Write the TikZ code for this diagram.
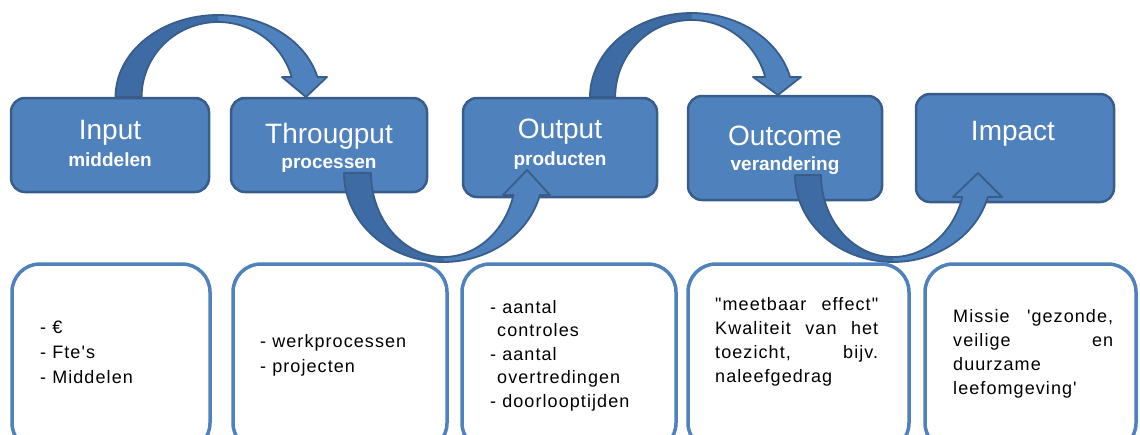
\documentclass[tikz,border=0pt]{standalone}
\usepackage{fontspec}
\setmainfont{Liberation Sans}[Ligatures=TeXOff]
\definecolor{boxfill}{HTML}{4F81BD}
\definecolor{boxline}{HTML}{385D8A}
\definecolor{arrback}{HTML}{3E6BA3}
\definecolor{lowline}{HTML}{4F81BD}
% #1 cx, #2 cy, #3 outer rx, #4 outer ry, #5 inner rx, #6 inner ry,
% #7 outer end angle, #8 inner end angle, #9 split angle; head = (hr),(ht),(hl)
\newcommand{\bentarrow}[9]{%
  \fill[arrowface] plot[domain=180:#7,samples=60,variable=\t] ({#1+#3*cos(\t)},{#2+#4*sin(\t)})
    -- (hr) -- (ht) -- (hl)
    -- plot[domain=#8:180,samples=60,variable=\t] ({#1+#5*cos(\t)},{#2+#6*sin(\t)}) -- cycle;
  \fill[arrowrear] plot[domain=180:#9,samples=40,variable=\t] ({#1+#3*cos(\t)},{#2+#4*sin(\t)})
    -- plot[domain=#9:180,samples=40,variable=\t] ({#1+#5*cos(\t)},{#2+#6*sin(\t)}) -- cycle;
  \draw[arrowrim] plot[domain=180:#7,samples=60,variable=\t] ({#1+#3*cos(\t)},{#2+#4*sin(\t)})
    -- (hr) -- (ht) -- (hl)
    -- plot[domain=#8:180,samples=60,variable=\t] ({#1+#5*cos(\t)},{#2+#6*sin(\t)}) -- cycle;
}
\begin{document}
\begin{tikzpicture}[x=1pt,y=-1pt,
  topbox/.style={draw=boxline, fill=boxfill, line width=2.5pt, rounded corners=14pt, inner sep=0pt},
  lowbox/.style={draw=lowline, fill=white, line width=3.5pt, rounded corners=28pt, inner sep=0pt},
  title/.style={text=white, font=\fontsize{28}{30}\selectfont, anchor=base, inner sep=0pt},
  subtitle/.style={text=white, font=\bfseries\fontsize{19}{21}\selectfont, anchor=base, inner sep=0pt},
  body/.style={anchor=base west, inner sep=0pt, text=black},
  arrowface/.style={fill=boxfill},
  arrowrear/.style={fill=arrback},
  arrowrim/.style={draw=boxline, line width=1.8pt, line join=round},
]
\useasboundingbox (0,0) rectangle (1140,434);
\clip (0,0) rectangle (1140,434);

% top boxes
\node[topbox, minimum width=198pt, minimum height=94pt] (input) at (110,145) {};
\node[topbox, minimum width=196pt, minimum height=94pt] (through) at (329,145) {};
\node[topbox, minimum width=194pt, minimum height=99pt] (output) at (560,147.5) {};
\node[topbox, minimum width=194pt, minimum height=104pt] (outcome) at (785,148) {};
\node[topbox, minimum width=198pt, minimum height=108pt] (impact) at (1015,148) {};

% bottom boxes
\node[lowbox, minimum width=198pt, minimum height=187pt] (b1) at (111,357.5) {};
\node[lowbox, minimum width=214pt, minimum height=187pt] (b2) at (340,357.5) {};
\node[lowbox, minimum width=214pt, minimum height=187pt] (b3) at (569,357.5) {};
\node[lowbox, minimum width=221pt, minimum height=187pt] (b4) at (798.5,357.5) {};
\node[lowbox, minimum width=211pt, minimum height=187pt] (b5) at (1030.5,357.5) {};

% arrows
\coordinate (hr) at (327,77); \coordinate (ht) at (306,97); \coordinate (hl) at (282,77);
\bentarrow{218}{97}{102.5}{82}{76.4}{75}{345.9}{344.5}{270}
\coordinate (hr) at (550,195); \coordinate (ht) at (527,170); \coordinate (hl) at (503,195);
\bentarrow{443.5}{173}{99.5}{89}{72.5}{84}{14.3}{15.18}{90}
\coordinate (hr) at (801,77); \coordinate (ht) at (778,95); \coordinate (hl) at (753,77);
\bentarrow{691.5}{97}{101.5}{84}{76.3}{77}{346.23}{344.95}{270}
\coordinate (hr) at (1002,197); \coordinate (ht) at (978,173); \coordinate (hl) at (953,197);
\bentarrow{893}{175}{98}{87}{72}{82}{14.65}{15.56}{90}

% titles
\node[title] (t1) at (110,139) {Input};
\node[subtitle] (s1) at (110,166) {middelen};
\node[title] (t2) at (329,143) {Througput};
\node[subtitle] (s2) at (329,168) {processen};
\node[title] (t3) at (560,138) {Output};
\node[subtitle] (s3) at (560,165) {producten};
\node[title] (t4) at (785,145) {Outcome};
\node[subtitle] (s4) at (785,170) {verandering};
\node[title] (t5) at (1013,140) {Impact};

% body texts
\node[body] (x1) at (40,333) {\fontsize{18}{25}\selectfont\addfontfeature{LetterSpace=6}\parbox[t]{160pt}{- €\\- Fte's\\- Middelen}};
\node[body] (x2) at (260,347) {\fontsize{18}{25}\selectfont\addfontfeature{LetterSpace=6}\parbox[t]{180pt}{- werkprocessen\\- projecten}};
\node[body] (x3) at (490,313) {\fontsize{18}{23.5}\selectfont\addfontfeature{LetterSpace=6}\parbox[t]{180pt}{- aantal\\\hspace*{7pt}controles\\- aantal\\\hspace*{7pt}overtredingen\\- doorlooptijden}};
\node[body] (x4) at (715,310) {\fontsize{18}{24}\selectfont\addfontfeature{LetterSpace=6}\parbox[t]{180pt}{\makebox[163pt][s]{"meetbaar effect"}\\\makebox[163pt][s]{Kwaliteit van het}\\\makebox[163pt][s]{toezicht, bijv.}\\naleefgedrag}};
\node[body] (x5) at (953,322) {\fontsize{18}{24.3}\selectfont\addfontfeature{LetterSpace=6}\parbox[t]{170pt}{\makebox[160pt][s]{Missie 'gezonde,}\\\makebox[160pt][s]{veilige en}\\duurzame\\leefomgeving'}};
\end{tikzpicture}
\end{document}
